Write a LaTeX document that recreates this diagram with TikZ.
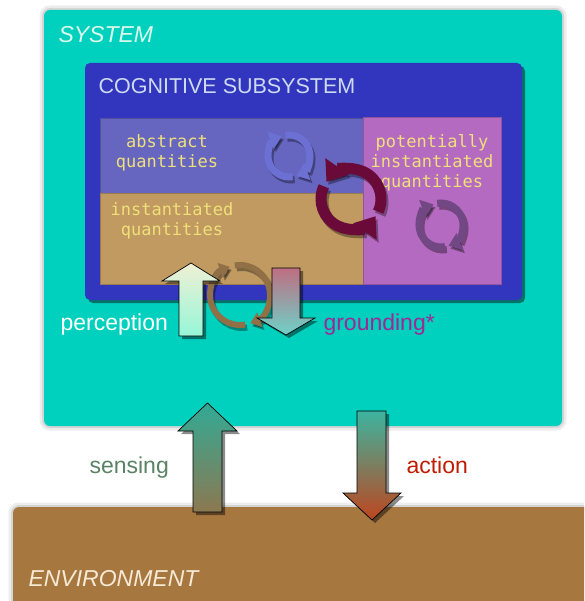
\documentclass[tikz,border=0pt]{standalone}
\usepackage{fontspec}
\setmainfont{Liberation Sans}
\newfontfamily\qtyfont{DejaVu Sans Mono}
\usetikzlibrary{shadows}
\usetikzlibrary{arrows.meta}

\definecolor{syscol}{RGB}{0,208,190}
\definecolor{cogcol}{RGB}{50,54,190}
\definecolor{abscol}{RGB}{102,102,192}
\definecolor{instcol}{RGB}{192,154,96}
\definecolor{potcol}{RGB}{180,106,192}
\definecolor{envcol}{RGB}{166,120,64}
\definecolor{qtycol}{RGB}{240,224,122}
\definecolor{ringblue}{RGB}{108,112,210}
\definecolor{ringmaroon}{RGB}{106,10,56}
\definecolor{ringpurple}{RGB}{114,72,132}
\definecolor{ringbrown}{RGB}{145,112,72}

\begin{document}
\begin{tikzpicture}[x=1pt, y=-1pt,
  box/.style={rectangle, anchor=north west, inner sep=0pt, outer sep=0pt},
  halo/.style={preaction={draw=black, opacity=.07, line width=9pt},
               preaction={draw=black, opacity=.10, line width=4pt}},
  darkshadow/.style={drop shadow={shadow xshift=3pt, shadow yshift=-3pt, opacity=.45, fill=black}},
  qty/.style={text=qtycol, font=\qtyfont\fontsize{17}{20}\selectfont, align=center},
  lbl/.style={anchor=base west, font=\fontsize{23}{27}\selectfont},
  title/.style={anchor=base west, font=\itshape\fontsize{23}{27}\selectfont},
  blockarr/.style={draw=black, line width=.7pt, line join=miter, darkshadow},
  ring/.style={line cap=butt, -{Triangle[length=0pt 1.7, width=0pt 2.5]}}]
\useasboundingbox (0,0) rectangle (584,601);
\clip (0,0) rectangle (584,601);

% boxes
\node[box, fill=syscol, rounded corners=6pt, minimum width=518pt, minimum height=416pt, halo] (sys) at (44,10) {};
\node[box, fill=cogcol, rounded corners=5pt, minimum width=437pt, minimum height=237pt, darkshadow] (cog) at (85,63) {};
\node[box, fill=abscol, draw=abscol!80!black, minimum width=263pt, minimum height=75pt] (abs) at (100,118) {};
\node[box, fill=instcol, draw=instcol!80!black, minimum width=263pt, minimum height=91pt] (inst) at (100,193) {};
\node[box, fill=potcol, draw=potcol!80!black, minimum width=138pt, minimum height=167pt] (pot) at (363,117) {};

\node[title, text={rgb,255:red,220;green,250;blue,235}] (systxt) at (55,43) {SYSTEM};
\node[anchor=base west, text={rgb,255:red,205;green,218;blue,240}, font=\fontsize{21.5}{25}\selectfont] (cogtxt) at (95,94) {COGNITIVE SUBSYSTEM};
\node[qty] (absqty) at (167,153) {abstract\\quantities};
\node[qty] (instqty) at (172,221) {instantiated\\quantities};
\node[qty] (potqty) at (432,163) {potentially\\instantiated\\quantities};

% cycles: centre / radius / width / start / sweep / colour (angles clockwise on the page)
\foreach \cx/\cy/\r/\w/\s/\d/\col in {289/156/21/7/80/170/ringblue, 441/225/22/7/80/170/ringpurple,
                                       351/199/30/11/25/-170/ringmaroon, 240/295/30/6/80/170/ringbrown}
{
  \foreach \a [evaluate=\a as \pa using -(\a)] in {\s, \s+180}
  \draw[ring, line width=\w pt, black, opacity=.35, shift={(2,3)}] (\cx,\cy) ++(\pa:\r pt) arc[start angle=\pa, delta angle=-(\d), radius=\r pt];
  \foreach \a [evaluate=\a as \pa using -(\a)] in {\s, \s+180}
  \draw[ring, line width=\w pt, \col] (\cx,\cy) ++(\pa:\r pt) arc[start angle=\pa, delta angle=-(\d), radius=\r pt];
}

% perception and grounding
\shadedraw[blockarr, top color={rgb,255:red,240;green,240;blue,212}, middle color={rgb,255:red,222;green,245;blue,222}, bottom color={rgb,255:red,150;green,246;blue,216}]
  (179,336) -- (179,281) -- (162,281) -- (191,263) -- (220,281) -- (203,281) -- (203,336) -- cycle;
\shadedraw[blockarr, top color={rgb,255:red,190;green,110;blue,130}, middle color={rgb,255:red,155;green,30;blue,140}, bottom color={rgb,255:red,110;green,210;blue,200}]
  (272,268) -- (300,268) -- (300,318) -- (315,318) -- (286,335) -- (257,318) -- (272,318) -- cycle;
\node[lbl, text=white] (perc) at (57,330) {perception};
\node[lbl, text={rgb,255:red,160;green,40;blue,150}] (grnd) at (320,330) {grounding*};

% environment
\node[box, fill=envcol, rounded corners=6pt, minimum width=620pt, minimum height=130pt, halo] (env) at (13,507) {};
\node[title, text={rgb,255:red,248;green,234;blue,214}] (envtxt) at (25,586) {ENVIRONMENT};

% sensing and action
\shadedraw[blockarr, top color={rgb,255:red,50;green,170;blue,150}, middle color={rgb,255:red,70;green,125;blue,95}, bottom color={rgb,255:red,140;green,120;blue,80}]
  (193,512) -- (193,431) -- (178,431) -- (207.5,403) -- (237,431) -- (222,431) -- (222,512) -- cycle;
\shadedraw[blockarr, top color={rgb,255:red,60;green,180;blue,160}, middle color={rgb,255:red,195;green,25;blue,0}, bottom color={rgb,255:red,190;green,70;blue,30}]
  (357,411) -- (386,411) -- (386,493) -- (401,493) -- (372,520) -- (343,493) -- (357,493) -- cycle;
\node[lbl, text={rgb,255:red,90;green,130;blue,100}] (sens) at (86,473) {sensing};
\node[lbl, text={rgb,255:red,192;green,28;blue,0}] (act) at (403,473) {action};
\end{tikzpicture}
\end{document}
